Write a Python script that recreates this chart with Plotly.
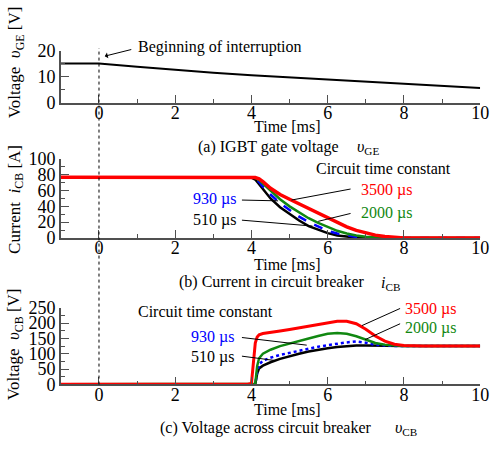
import plotly.graph_objects as go

W, H = 498, 450
FONT = "'Liberation Serif', 'Times New Roman', Times, 'DejaVu Serif', serif"

# ---------------- data ----------------
t_ge = [-1, 0, 1, 2, 3, 4, 5, 6, 7, 8, 9, 10]
v_ge = [15.2, 15.2, 13.9, 12.7, 11.6, 10.6, 9.8, 9.0, 8.1, 7.2, 6.4, 5.7]

t_cur = [-1, 3.9, 4.0, 4.1, 4.2, 4.3, 4.5, 4.75, 5.0, 5.25, 5.5, 5.75, 6.0, 6.25,
         6.5, 6.75, 7.0, 7.25, 7.5, 7.75, 8.0, 10]
i_510 = [77, 77, 76.5, 74, 68, 61, 50, 39, 30, 22, 15, 10, 6, 3, 1.3, 0.4, 0, 0, 0, 0, 0, 0]
i_930 = [77, 77, 77, 75, 71, 65, 55, 44, 35, 27, 20, 14, 9, 5.5, 3, 1.2, 0.3, 0, 0, 0, 0, 0]
i_2000 = [77, 77, 77, 76, 73.5, 69, 60, 49, 40, 32, 25, 19, 13.5, 9, 5.5, 3, 1.5, 0.6, 0, 0, 0, 0]
i_3500 = [77, 77, 77, 76.5, 75, 71.5, 63, 55, 49, 43, 37, 31, 25, 19.5, 14, 9.5, 6, 3.5, 1.8, 0.6, 0, 0]

t_v = [-1, 3.9, 4.0, 4.05, 4.1, 4.15, 4.2, 4.3, 4.5, 4.75, 5.0, 5.25, 5.5, 5.75, 6.0,
       6.25, 6.5, 6.75, 7.0, 7.25, 7.5, 7.75, 8.0, 8.5, 10]
v_510 = [0, 0, 0, 0, 0, 35, 52, 61, 72, 83, 92, 100, 107, 113, 118, 122, 125, 127, 127,
         126, 125, 125, 125, 125, 125]
v_930 = [0, 0, 0, 0, 0, 40, 65, 77, 87, 96, 103, 110, 117, 123, 128, 133, 137, 140, 136,
         129, 126, 125, 125, 125, 125]
v_2000 = [0, 0, 0, 0, 2, 60, 85, 100, 113, 125, 134, 142, 150, 158, 165, 168, 165, 157,
          145, 135, 129, 126, 125, 125, 125]
v_3500 = [0, 0, 3, 70, 135, 155, 162, 166, 169, 174, 179, 184, 189, 195, 201, 206, 206,
          198, 180, 158, 141, 131, 127, 125, 125]

x_ticks = [0, 2, 4, 6, 8, 10]
labels = ["510 µs", "930 µs", "2000 µs", "3500 µs"]
colors = ["#000000", "#0000ff", "#118811", "#ff0000"]


def P(px, py):
    return px / W, 1 - py / H


XD = [62 / W, 489 / W]
YA = [1 - 97 / H, 1 - 43 / H]
YB = [1 - 238.5 / H, 1 - 156 / H]
YC = [1 - 391.7 / H, 1 - 311.7 / H]

fig = go.Figure()

fig.add_trace(go.Scatter(x=t_ge, y=v_ge, mode="lines", line=dict(color="black", width=2),
                         xaxis="x", yaxis="y", showlegend=False))

cur = [i_510, i_930, i_2000, i_3500]
wid = [2.5, 2.5, 2.5, 3.5]
for k in range(4):
    fig.add_trace(go.Scatter(x=t_cur, y=cur[k], mode="lines", cliponaxis=False,
                             line=dict(color=colors[k], width=wid[k],
                                       dash="dash" if k == 1 else "solid"),
                             xaxis="x2", yaxis="y2", showlegend=False))

vol = [v_510, v_930, v_2000, v_3500]
for k in range(4):
    fig.add_trace(go.Scatter(x=t_v, y=vol[k], mode="lines", cliponaxis=False,
                             line=dict(color=colors[k], width=2.5 if k < 3 else 3,
                                       dash="dot" if k == 1 else "solid"),
                             xaxis="x3", yaxis="y3", showlegend=False))

AX = "#505050"
def xax(anchor):
    return dict(domain=XD, range=[-1, 10], anchor=anchor, tickvals=x_ticks,
                ticks="inside", ticklen=8, tickcolor=AX, tickwidth=1.2,
                showline=True, linecolor=AX, linewidth=1.5, showgrid=False,
                zeroline=False, tickfont=dict(family=FONT, size=18, color="black"),
                ticklabelstandoff=-7,
                minor=dict(dtick=1, ticks="inside", ticklen=4, tickcolor=AX, showgrid=False))

def yax(anchor, dom, rng, dt):
    return dict(domain=dom, range=rng, anchor=anchor, dtick=dt,
                ticks="inside", ticklen=8, tickcolor=AX, tickwidth=1.2,
                showline=True, linecolor=AX, linewidth=1.5, showgrid=False,
                zeroline=False, tickfont=dict(family=FONT, size=18, color="black"),
                minor=dict(dtick=dt / 2, ticks="inside", ticklen=4, tickcolor=AX, showgrid=False))

fig.update_layout(
    width=W, height=H, margin=dict(l=0, r=0, t=0, b=0),
    paper_bgcolor="white", plot_bgcolor="white",
    font=dict(family=FONT, size=16, color="black"),
    xaxis=xax("y"), yaxis=yax("x", YA, [0, 20], 10),
    xaxis2=xax("y2"), yaxis2=yax("x2", YB, [0, 100], 20),
    xaxis3=xax("y3"), yaxis3=yax("x3", YC, [0, 250], 50),
)

shapes = [dict(type="line", xref="x", yref="paper", x0=0, x1=0,
               y0=1 - 392 / H, y1=1 - 40 / H,
               line=dict(color="black", width=1, dash="3px,3px"))]
leaders = [
    ("x2", "y2", 3.75, 48, 4.7, 47),
    ("x2", "y2", 3.75, 22.5, 5.6, 15),
    ("x2", "y2", 6.6, 62, 5.05, 48),
    ("x2", "y2", 6.6, 31, 5.75, 21),
    ("x3", "y3", 3.75, 153, 5.45, 128),
    ("x3", "y3", 3.75, 92, 4.6, 78),
    ("x3", "y3", 7.9, 248, 6.9, 192),
    ("x3", "y3", 7.9, 198, 6.98, 146),
]
for xr, yr, a, b, c, d in leaders:
    shapes.append(dict(type="line", xref=xr, yref=yr, x0=a, y0=b, x1=c, y1=d,
                       line=dict(color="black", width=1)))
fig.update_layout(shapes=shapes)

ann = []
def text(px, py, s, color="black", xanchor="center", size=16, angle=0):
    x, y = P(px, py)
    ann.append(dict(x=x, y=y, xref="paper", yref="paper", text=s, showarrow=False,
                    xanchor=xanchor, yanchor="middle", textangle=angle,
                    font=dict(family=FONT, size=size, color=color)))

# y titles
text(16, 55, "Voltage&nbsp;&nbsp;<i>υ</i><sub>GE</sub> [V]", angle=-90, size=17)
text(16, 198, "Current&nbsp;&nbsp;<i>i</i><sub>CB</sub> [A]", angle=-90, size=17)
text(16, 350, "Voltage&nbsp;&nbsp;<i>υ</i><sub>CB</sub> [V]", angle=-90, size=17)

# x titles and captions
for py in (122, 266, 418):
    text(293, py, "Time [ms]")
text(200, 143, "(a) IGBT gate voltage", xanchor="left")
text(362, 144, "<i>υ</i><sub>GE</sub>", xanchor="left")
text(180, 285, "(b) Current in circuit breaker", xanchor="left")
text(386, 286, "<i>i</i><sub>CB</sub>", xanchor="left")
text(161, 437, "(c) Voltage across circuit breaker", xanchor="left")
text(400, 438, "<i>υ</i><sub>CB</sub>", xanchor="left")

# panel b labels
text(391, 166, "Circuit time constant")
text(394, 188, labels[3], color=colors[3])
text(394, 212, labels[2], color=colors[2])
text(218, 198, labels[1], color=colors[1])
text(218, 220, labels[0], color=colors[0])
# panel c labels
text(209, 315, "Circuit time constant")
text(438, 313, labels[3], color=colors[3])
text(438, 333, labels[2], color=colors[2])
text(216, 342, labels[1], color=colors[1])
text(216, 363, labels[0], color=colors[0])

# beginning of interruption
ax_, ay_ = P(106.7, 48.3)
ann.append(dict(x=ax_, y=ay_, xref="paper", yref="paper", ax=28, ay=-7,
                text="", showarrow=True, arrowhead=1, arrowsize=1, arrowwidth=1,
                arrowcolor="black"))
text(138, 39, "Beginning of interruption", xanchor="left")

fig.update_layout(annotations=ann)
fig.write_html("out.html", config={"displayModeBar": False},
               post_script="document.body.style.margin='0';document.body.style.overflow='hidden';")
